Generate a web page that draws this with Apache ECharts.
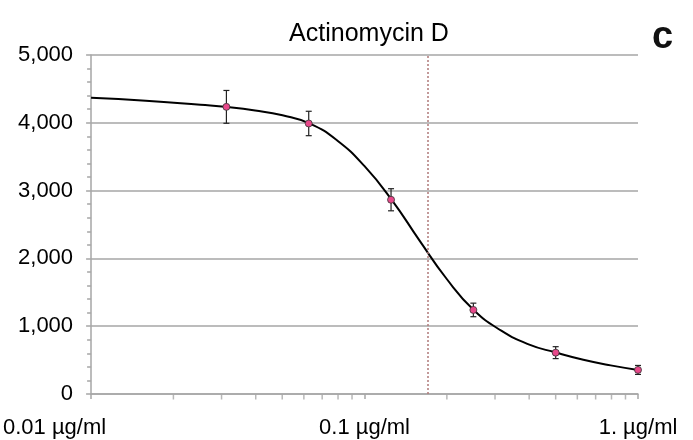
<!DOCTYPE html>
<html>
<head>
<meta charset="utf-8">
<script src="https://cdn.jsdelivr.net/npm/echarts@6/dist/echarts.min.js"></script>
<style>
html, body { margin: 0; padding: 0; background: #fff; }
#main { width: 693px; height: 440px; }
</style>
</head>
<body>
<div id="main"></div>
<script>
// measured points (dose, mean, error)
var doses = [0.03125, 0.0625, 0.125, 0.25, 0.5, 1];
var means = [4235, 3990, 2865, 1240, 610, 355];
var errs = [242, 180, 163, 100, 88, 66];
// fitted curve
var fitX = [0.01, 0.01585, 0.02512, 0.03162, 0.03981, 0.05012, 0.0631, 0.07943, 0.1, 0.1259, 0.1585, 0.1995, 0.2512, 0.3162, 0.3981, 0.5012, 0.631, 0.7943, 1];
var fitY = [4368, 4325, 4265, 4232, 4182, 4110, 3988, 3740, 3360, 2860, 2270, 1700, 1235, 935, 732, 611, 505, 422, 355];
var ic50 = 0.175;
var xLabels = ['0.01 µg/ml', '0.1 µg/ml', '1. µg/ml'];
var xMinorTicks = [0.02, 0.03, 0.04, 0.05, 0.06, 0.07, 0.08, 0.09, 0.2, 0.3, 0.4, 0.5, 0.6, 0.7, 0.8, 0.9];

var chart = echarts.init(document.getElementById('main'));
var axisGray = '#a6a6a6';
var font = 'Liberation Sans, Arial, sans-serif';

var option = {
	animation: false,
	backgroundColor: '#fff',
	textStyle: { fontFamily: font },
	title: {
		text: 'Actinomycin D',
		left: 364,
		top: 17,
		textAlign: 'center',
		textStyle: { fontSize: 25, fontWeight: 'normal', color: '#000', fontFamily: font }
	},
	graphic: [{
		type: 'text',
		x: 652,
		y: 38,
		style: {
			text: 'c',
			font: 'bold 38px "Liberation Sans", Arial, sans-serif',
			fill: '#111',
			verticalAlign: 'middle'
		}
	}],
	grid: { left: 91, right: 55, top: 55, bottom: 46 },
	xAxis: {
		type: 'log',
		logBase: 10,
		min: 0.01,
		max: 1,
		axisLine: { lineStyle: { color: axisGray, width: 1.5 } },
		axisTick: { length: 5, lineStyle: { color: axisGray, width: 1.5 } },
		splitLine: { show: false },
		axisLabel: {
			margin: 23,
			fontSize: 22,
			color: '#000',
			formatter: function(v) {
				var i = Math.round(Math.log10(v)) + 2;
				if (i === 0) return '{first|' + xLabels[0] + '}';
				return xLabels[i];
			},
			rich: {
				first: { fontSize: 22, color: '#000', padding: [0, 73, 0, 0] }
			}
		}
	},
	yAxis: {
		type: 'value',
		min: 0,
		max: 5000,
		interval: 1000,
		axisLine: { show: true, lineStyle: { color: axisGray, width: 1.5 } },
		axisTick: { show: true, length: 5, lineStyle: { color: axisGray, width: 1.5 } },
		minorTick: { show: true, splitNumber: 5, length: 4, lineStyle: { color: axisGray, width: 1.5 } },
		splitLine: { lineStyle: { color: axisGray, width: 1.5 } },
		axisLabel: {
			margin: 18,
			fontSize: 22,
			color: '#000',
			formatter: function(v) { return echarts.format.addCommas(v); }
		}
	},
	series: [{
		name: 'fit',
		type: 'line',
		data: fitX.map(function(x, i) { return [x, fitY[i]]; }),
		showSymbol: false,
		smooth: 0.5,
		lineStyle: { color: '#000', width: 2 },
		z: 3,
		markLine: {
			silent: true,
			symbol: 'none',
			label: { show: false },
			lineStyle: { color: '#b07a7a', type: [2, 2], width: 1.5 },
			data: [{ xAxis: ic50 }]
		}
	}, {
		name: 'minorTicks',
		type: 'scatter',
		silent: true,
		clip: false,
		symbol: 'rect',
		symbolSize: [1.5, 5],
		symbolOffset: [0, 3],
		itemStyle: { color: axisGray },
		data: xMinorTicks.map(function(x) { return [x, 0]; }),
		z: 1
	}, {
		name: 'err',
		type: 'custom',
		data: doses.map(function(d, i) { return [d, means[i] - errs[i], means[i] + errs[i]]; }),
		encode: { x: 0, y: [1, 2] },
		renderItem: function(params, api) {
			var top = api.coord([api.value(0), api.value(2)]);
			var bot = api.coord([api.value(0), api.value(1)]);
			var w = 3;
			var st = { stroke: '#222', lineWidth: 1.2 };
			return {
				type: 'group',
				children: [
					{ type: 'line', shape: { x1: top[0], y1: top[1], x2: bot[0], y2: bot[1] }, style: st },
					{ type: 'line', shape: { x1: top[0] - w, y1: top[1], x2: top[0] + w, y2: top[1] }, style: st },
					{ type: 'line', shape: { x1: bot[0] - w, y1: bot[1], x2: bot[0] + w, y2: bot[1] }, style: st }
				]
			};
		},
		z: 4
	}, {
		name: 'mean',
		type: 'scatter',
		data: doses.map(function(d, i) { return [d, means[i]]; }),
		symbol: 'circle',
		symbolSize: 7,
		itemStyle: { color: '#e8488a', borderColor: '#333', borderWidth: 0.8, opacity: 1 },
		z: 5
	}]
};

chart.setOption(option);
</script>
</body>
</html>
